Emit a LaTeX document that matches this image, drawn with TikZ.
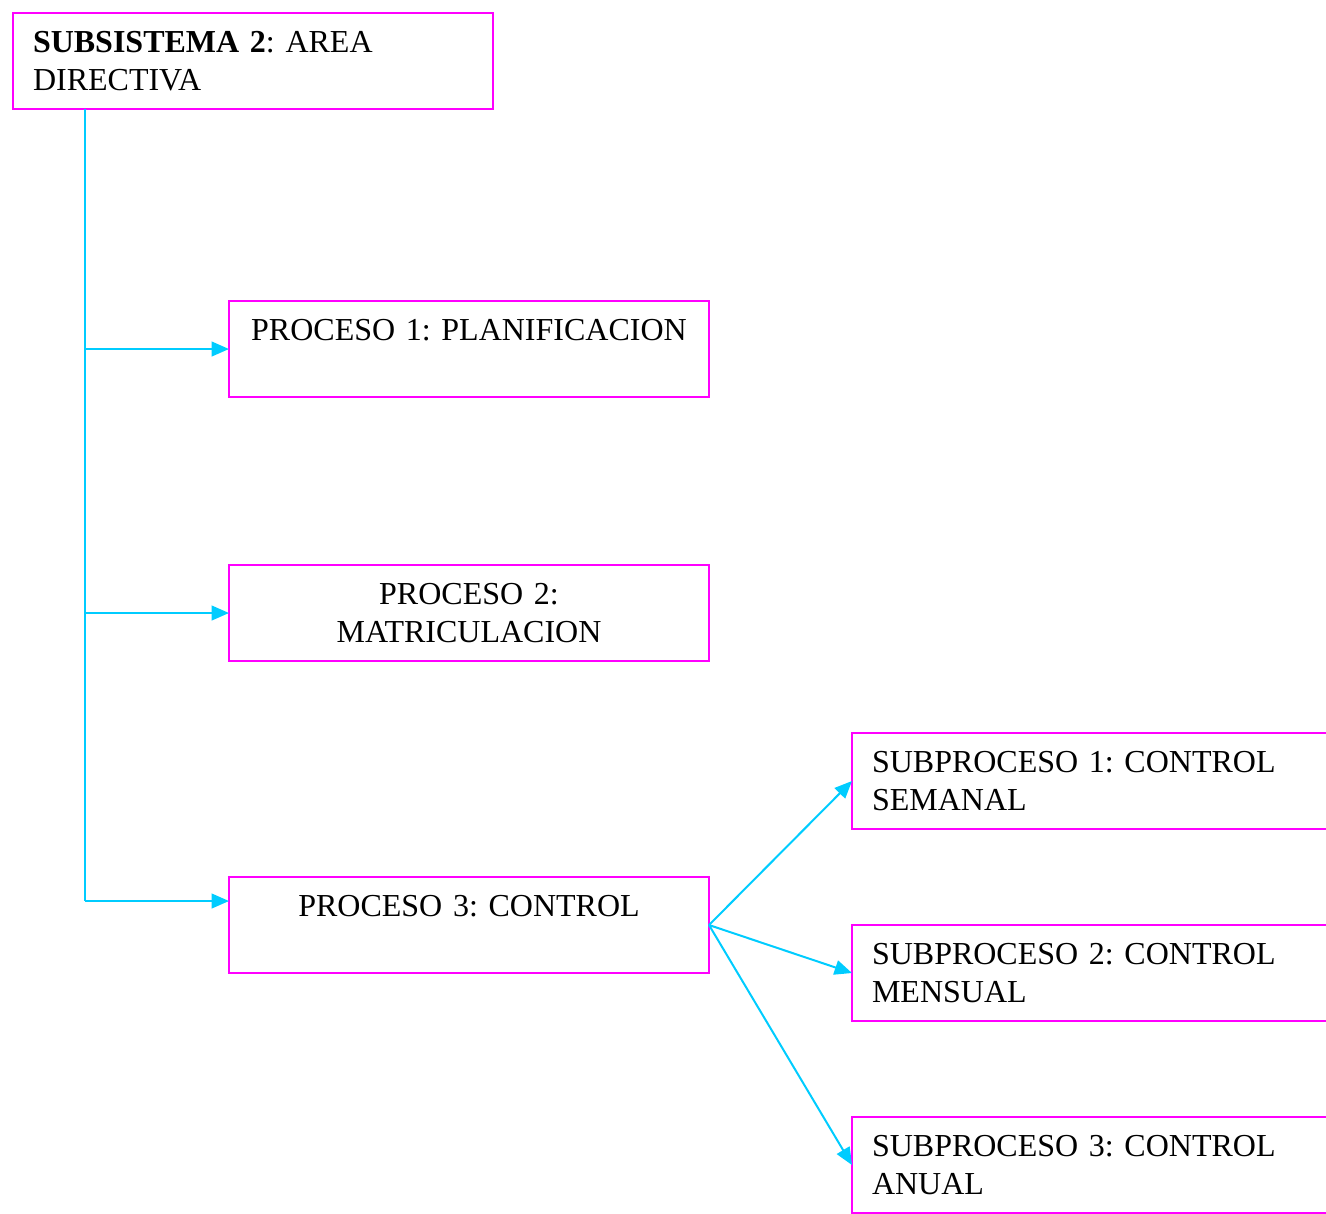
\documentclass[tikz,border=0pt]{standalone}
\usepackage{fontspec}
\setmainfont{Liberation Serif}
\usetikzlibrary{arrows.meta}
\definecolor{boxpink}{RGB}{255,0,255}
\definecolor{linecyan}{RGB}{0,204,255}
\frenchspacing

\begin{document}
\begin{tikzpicture}[x=0.375pt,y=-0.375pt,
    every node/.style={font=\fontsize{12}{14.25}\selectfont},
    pbox/.style={rectangle,draw=boxpink,line width=0.75pt,minimum width=180pt,minimum height=36pt,text width=170pt,inner xsep=5pt,inner ysep=0pt,outer sep=0pt,anchor=north west,align=center},
    lbox/.style={pbox,text width=165pt,inner xsep=7.5pt,align=left},
    trunk/.style={draw=linecyan,line width=0.75pt},
    link/.style={trunk,-{Triangle[length=6.5pt,width=5.5pt]}}]
    \useasboundingbox (0,0) rectangle (1326,1213);
    \clip (0,0) rectangle (1326,1213);
    %
    \node[lbox] (sub) at (13,13) {\textbf{SUBSISTEMA 2}: AREA\\DIRECTIVA};
    %
    \node[pbox] (p_1) at (229,301) {PROCESO 1: PLANIFICACION\\\mbox{}};
    \node[pbox] (p_2) at (229,565) {PROCESO 2:\\MATRICULACION};
    \node[pbox] (p_3) at (229,877) {PROCESO 3: CONTROL\\\mbox{}};
    %
    \node[lbox] (s_1) at (852,733) {SUBPROCESO 1: CONTROL\\SEMANAL};
    \node[lbox] (s_2) at (852,925) {SUBPROCESO 2: CONTROL\\MENSUAL};
    \node[lbox] (s_3) at (852,1117) {SUBPROCESO 3: CONTROL\\ANUAL};
    %
    \coordinate (t_1) at (85,349);
    \coordinate (t_2) at (85,613);
    \coordinate (t_3) at (85,901);
    \coordinate (t_0) at (sub.south -| t_3);
    %
    \draw[trunk] (t_0) -- (t_3);
    \draw[link] (t_1) -- (t_1 -| p_1.west);
    \draw[link] (t_2) -- (t_2 -| p_2.west);
    \draw[link] (t_3) -- (t_3 -| p_3.west);
    %
    \draw[link] (p_3.east) -- (s_1.west);
    \draw[link] (p_3.east) -- (s_2.west);
    \draw[link] (p_3.east) -- (s_3.west);
\end{tikzpicture}
\end{document}
